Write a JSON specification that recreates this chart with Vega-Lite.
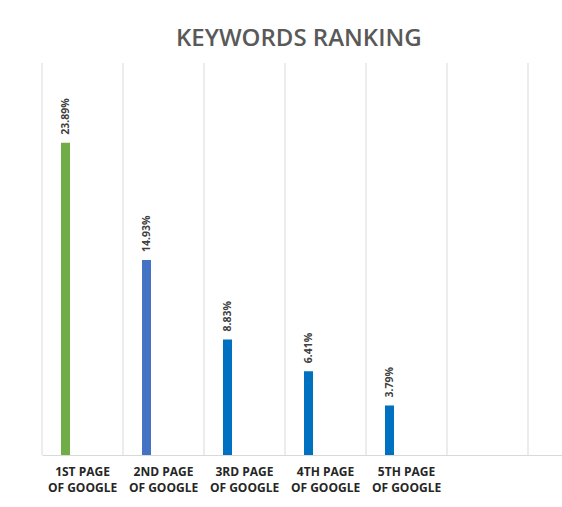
{
  "$schema": "https://vega.github.io/schema/vega-lite/v6.json",
  "width": 520,
  "height": 392,
  "autosize": {"type": "none"},
  "padding": {"left": 42, "top": 63, "right": 0, "bottom": 52},
  "background": "white",
  "title": {
    "text": "KEYWORDS RANKING",
    "font": "Open Sans",
    "fontSize": 24,
    "fontWeight": 600,
    "color": "#595959",
    "anchor": "start",
    "frame": "group",
    "offset": 17,
    "baseline": "alphabetic",
    "dx": 134,
    "dy": 24
  },
  "config": {"view": {"stroke": null}},
  "datasets": {
    "ranks": [
      {"cat": "1ST PAGE|OF GOOGLE", "share": 0.2389},
      {"cat": "2ND PAGE|OF GOOGLE", "share": 0.1493},
      {"cat": "3RD PAGE|OF GOOGLE", "share": 0.0883},
      {"cat": "4TH PAGE|OF GOOGLE", "share": 0.0641},
      {"cat": "5TH PAGE|OF GOOGLE", "share": 0.0379}
    ],
    "cats": [
      {"cat": "1ST PAGE|OF GOOGLE"},
      {"cat": "2ND PAGE|OF GOOGLE"},
      {"cat": "3RD PAGE|OF GOOGLE"},
      {"cat": "4TH PAGE|OF GOOGLE"},
      {"cat": "5TH PAGE|OF GOOGLE"},
      {"cat": "6"},
      {"cat": "7"}
    ]
  },
  "encoding": {
    "x": {
      "field": "cat",
      "type": "nominal",
      "sort": null,
      "scale": {
        "domain": ["1ST PAGE|OF GOOGLE", "2ND PAGE|OF GOOGLE", "3RD PAGE|OF GOOGLE", "4TH PAGE|OF GOOGLE", "5TH PAGE|OF GOOGLE", "6", "7"],
        "range": [0, 567],
        "paddingInner": 0,
        "paddingOuter": 0
      },
      "axis": {
        "title": null,
        "ticks": false,
        "domain": true,
        "domainColor": "#d9d9d9",
        "domainWidth": 1,
        "grid": false,
        "labelAngle": 0,
        "labelExpr": "indexof(datum.label, '|') >= 0 ? split(datum.label, '|') : ''",
        "labelFont": "Open Sans",
        "labelFontWeight": "bold",
        "labelFontSize": 12,
        "labelColor": "#262626",
        "labelPadding": 11,
        "labelLineHeight": 16,
        "labelLimit": 0
      }
    }
  },
  "layer": [
    {
      "data": {"name": "cats"},
      "mark": {"type": "rule", "color": "#d9d9d9", "strokeWidth": 1, "xOffset": -40.5},
      "encoding": {}
    },
    {
      "data": {"name": "ranks"},
      "mark": {"type": "bar", "width": 9, "xOffset": -17},
      "encoding": {
        "y": {"field": "share", "type": "quantitative", "scale": {"domain": [0, 0.3]}, "axis": null},
        "color": {
          "field": "cat",
          "type": "nominal",
          "scale": {
            "domain": ["1ST PAGE|OF GOOGLE", "2ND PAGE|OF GOOGLE", "3RD PAGE|OF GOOGLE", "4TH PAGE|OF GOOGLE", "5TH PAGE|OF GOOGLE"],
            "range": ["#70ad47", "#4472c4", "#0070c0", "#0070c0", "#0070c0"]
          },
          "legend": null
        }
      }
    },
    {
      "data": {"name": "ranks"},
      "mark": {
        "type": "text",
        "angle": 270,
        "align": "left",
        "baseline": "middle",
        "dx": 8,
        "xOffset": -16.5,
        "font": "Open Sans",
        "fontWeight": "bold",
        "fontSize": 10.5,
        "color": "#404040"
      },
      "encoding": {
        "y": {"field": "share", "type": "quantitative"},
        "text": {"field": "share", "type": "quantitative", "format": ".2%"}
      }
    }
  ]
}
